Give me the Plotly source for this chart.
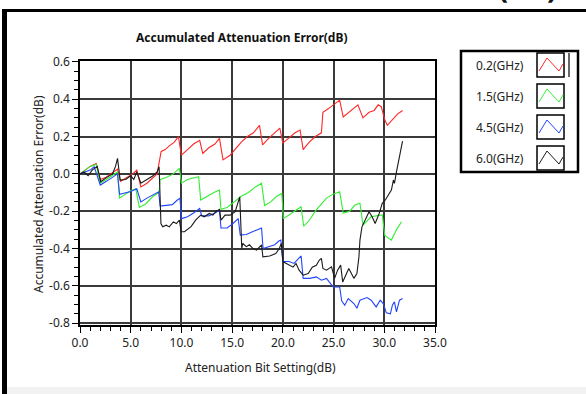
import plotly.graph_objects as go

# ---------------- data ----------------
SERIES_NAMES = ["0.2(GHz)", "1.5(GHz)", "4.5(GHz)", "6.0(GHz)"]
SERIES_COLORS = ["#ff2626", "#33ee33", "#2244ff", "#1a1a1a"]

RED_X = [0, 0.5, 1.0, 1.6, 2.0, 2.5, 3.0, 3.7, 4.0, 4.6, 5.2, 5.6, 6.0, 6.6, 7.2,
         7.6, 8.0, 8.4, 8.8, 9.3, 9.7, 10.0, 10.6, 11.2, 11.8, 12.1, 12.7, 13.3, 13.75, 14.1,
         14.8, 15.4, 15.9, 16.5, 17.1, 17.7, 18.0, 18.6, 19.2, 19.7, 20.0, 20.6, 21.2, 21.7, 22.0,
         22.6, 23.2, 23.8, 23.95, 24.5, 25.0, 25.6, 25.95, 26.5, 27.0, 27.4, 27.9, 28.5, 29.0, 29.4,
         29.7, 30.05, 30.3, 30.8, 31.3, 31.8]
RED_Y = [0, 0.02, 0.04, 0.055, -0.03, -0.02, 0.0, 0.025, -0.04, -0.02, 0.0, 0.02, -0.07, -0.05, -0.02,
         0.0, 0.12, 0.13, 0.15, 0.17, 0.2, 0.10, 0.13, 0.16, 0.18, 0.11, 0.14, 0.16, 0.19, 0.075,
         0.1, 0.14, 0.17, 0.2, 0.22, 0.26, 0.155, 0.19, 0.22, 0.245, 0.165, 0.19, 0.22, 0.235, 0.13,
         0.17, 0.2, 0.22, 0.33, 0.35, 0.37, 0.395, 0.305, 0.33, 0.355, 0.37, 0.30, 0.33, 0.34, 0.37,
         0.36, 0.29, 0.26, 0.29, 0.32, 0.34]

GREEN_X = [0, 0.5, 1.0, 1.6, 2.0, 2.6, 3.2, 3.7, 3.9, 4.5, 5.0, 5.5, 5.85, 6.5, 7.2,
           7.8, 7.9, 8.5, 9.2, 9.8, 10.0, 10.6, 11.2, 11.7, 11.9, 12.5, 13.2, 13.75, 13.9, 14.5,
           15.2, 15.9, 16.6, 17.3, 17.9, 18.2, 18.8, 19.4, 19.9, 20.05, 20.6, 21.2, 21.8, 22.05, 22.6,
           23.2, 23.8, 24.3, 24.9, 25.6, 25.95, 26.6, 27.1, 27.6, 27.9, 28.7, 29.2, 29.8, 30.05, 30.7,
           31.2, 31.7]
GREEN_Y = [0, 0.02, 0.04, 0.05, -0.05, -0.03, -0.01, 0.01, -0.13, -0.11, -0.09, -0.08, -0.18, -0.16, -0.12,
           -0.10, -0.03, -0.02, 0.0, 0.03, -0.05, -0.03, -0.02, -0.015, -0.14, -0.12, -0.1, -0.087, -0.19, -0.18,
           -0.15, -0.12, -0.1, -0.07, -0.05, -0.17, -0.15, -0.12, -0.105, -0.24, -0.22, -0.2, -0.176, -0.28, -0.25,
           -0.2, -0.16, -0.13, -0.11, -0.096, -0.21, -0.2, -0.167, -0.157, -0.275, -0.23, -0.225, -0.22, -0.33, -0.355,
           -0.30, -0.257]

BLUE_X = [0, 0.5, 1.0, 1.4, 2.0, 2.6, 3.2, 3.7, 3.9, 4.5, 5.0, 5.6, 6.0, 6.6, 7.2,
          7.75, 7.9, 8.5, 9.1, 9.6, 9.86, 10.0, 10.6, 11.2, 11.8, 12.0, 12.7, 13.3, 13.75, 13.9,
          14.5, 15.0, 15.6, 15.8, 16.4, 17.0, 17.5, 17.9, 18.05, 18.6, 19.2, 19.6, 19.8, 20.0, 20.6,
          21.1, 21.5, 21.8, 22.0, 22.65, 23.3, 23.8, 24.3, 24.96, 25.6, 25.8, 26.1, 26.45, 27.0, 27.3,
          27.6, 28.3, 28.7, 29.2, 29.6, 29.9, 30.2, 30.6, 30.8, 31.0, 31.2, 31.5, 31.8]
BLUE_Y = [0, 0.01, 0.02, 0.038, -0.06, -0.04, -0.02, 0.0, -0.11, -0.1, -0.095, -0.08, -0.15, -0.13, -0.11,
          -0.096, -0.173, -0.17, -0.165, -0.14, -0.13, -0.24, -0.23, -0.21, -0.185, -0.225, -0.225, -0.21, -0.195, -0.29,
          -0.29, -0.27, -0.24, -0.328, -0.325, -0.31, -0.3, -0.29, -0.40, -0.39, -0.38, -0.36, -0.355, -0.47, -0.47,
          -0.48, -0.46, -0.44, -0.56, -0.56, -0.552, -0.57, -0.56, -0.606, -0.606, -0.68, -0.704, -0.668, -0.695, -0.72,
          -0.677, -0.663, -0.677, -0.713, -0.677, -0.695, -0.745, -0.75, -0.704, -0.686, -0.74, -0.677, -0.668]

BLACK_X = [0, 0.4, 0.8, 1.2, 1.7, 2.04, 2.6, 3.2, 3.5, 3.7, 3.96, 4.5, 5.0, 5.3, 5.6,
           6.0, 6.6, 7.2, 7.6, 7.8, 7.98, 8.15, 8.5, 8.8, 9.2, 9.5, 9.8, 9.97, 10.3, 10.95,
           11.4, 11.9, 12.25, 12.75, 13.1, 13.4, 13.75, 13.9, 14.3, 14.8, 15.3, 15.55, 15.75, 15.95, 16.05,
           16.4, 16.7, 17.05, 17.4, 17.9, 18.03, 18.7, 19.3, 19.65, 19.85, 20.0, 20.6, 21.0, 21.3, 21.6,
           22.0, 22.5, 22.9, 23.3, 23.6, 23.8, 23.95, 24.3, 24.8, 25.1, 25.4, 25.7, 25.9, 26.2, 26.5,
           27.0, 27.3, 27.5, 27.6, 27.8, 28.1, 28.5, 28.8, 29.1, 29.5, 29.8, 30.1, 30.5, 30.7, 30.9,
           31.0, 31.2, 31.55, 31.8]
BLACK_Y = [0, 0.01, -0.01, 0.02, 0.04, -0.042, -0.02, 0.0, 0.04, 0.083, -0.033, -0.03, -0.01, -0.03, 0.01,
           -0.05, -0.03, -0.01, 0.01, 0.038, -0.266, -0.284, -0.275, -0.284, -0.257, -0.266, -0.248, -0.31, -0.31, -0.283,
           -0.248, -0.221, -0.23, -0.212, -0.221, -0.203, -0.19, -0.248, -0.221, -0.221, -0.203, -0.15, -0.123, -0.40, -0.373,
           -0.39, -0.38, -0.40, -0.409, -0.38, -0.445, -0.44, -0.427, -0.40, -0.373, -0.47, -0.49, -0.50, -0.48, -0.516,
           -0.543, -0.534, -0.50, -0.49, -0.462, -0.453, -0.507, -0.516, -0.498, -0.56, -0.516, -0.489, -0.58, -0.543, -0.507,
           -0.56, -0.534, -0.445, -0.355, -0.284, -0.248, -0.203, -0.23, -0.266, -0.212, -0.158, -0.14, -0.105, -0.087, -0.033,
           -0.051, 0.011, 0.10, 0.176]

SERIES_X = [RED_X, GREEN_X, BLUE_X, BLACK_X]
SERIES_Y = [RED_Y, GREEN_Y, BLUE_Y, BLACK_Y]

X_TICKS = [0, 5, 10, 15, 20, 25, 30, 35]
X_TICKTEXT = ["0.0", "5.0", "10.0", "15.0", "20.0", "25.0", "30.0", "35.0"]
Y_TICKS = [0.6, 0.4, 0.2, 0.0, -0.2, -0.4, -0.6, -0.8]
Y_TICKTEXT = ["0.6", "0.4", "0.2", "0.0", "-0.2", "-0.4", "-0.6", "-0.8"]

TITLE = "Accumulated Attenuation Error(dB)"
X_TITLE = "Attenuation Bit Setting(dB)"
Y_TITLE = "Accumulated Attenuation Error(dB)"

# ---------------- layout geometry ----------------
W, H = 586, 394
L, R, T, B = 80, 435, 61, 325
FONT = "Noto Sans"


def xp(px):
    return (px - L) / (R - L)


def yp(py):
    return (B - py) / (B - T)


fig = go.Figure()
for name, color, xs, ys in zip(SERIES_NAMES, SERIES_COLORS, SERIES_X, SERIES_Y):
    fig.add_trace(go.Scatter(x=xs, y=ys, mode="lines", name=name,
                             line=dict(color=color, width=1.1), showlegend=False))

shapes = []
annotations = []

# outer frame (black bars at top & left)
shapes.append(dict(type="rect", xref="paper", yref="paper", x0=xp(2), x1=xp(7), y0=yp(394), y1=yp(9),
                   fillcolor="black", line=dict(width=0), layer="above"))
shapes.append(dict(type="rect", xref="paper", yref="paper", x0=xp(2), x1=xp(586), y0=yp(12), y1=yp(9),
                   fillcolor="black", line=dict(width=0), layer="above"))
# faint grey strip at the bottom
shapes.append(dict(type="rect", xref="paper", yref="paper", x0=xp(7), x1=xp(586), y0=yp(394), y1=yp(387),
                   fillcolor="#f2f2f2", line=dict(width=0), layer="below"))

# legend box
LEG_X0, LEG_X1, LEG_Y0, LEG_Y1 = 461, 578, 51, 172
shapes.append(dict(type="rect", xref="paper", yref="paper", x0=xp(LEG_X0), x1=xp(LEG_X1),
                   y0=yp(LEG_Y1), y1=yp(LEG_Y0), line=dict(color="black", width=2.5),
                   fillcolor="white", layer="above"))
shapes.append(dict(type="line", xref="paper", yref="paper", x0=xp(569), x1=xp(569),
                   y0=yp(77), y1=yp(53), line=dict(color="black", width=1.2)))
ROW_TOP = [53, 84, 115, 146]
for i, (name, color) in enumerate(zip(SERIES_NAMES, SERIES_COLORS)):
    top = ROW_TOP[i]
    shapes.append(dict(type="rect", xref="paper", yref="paper", x0=xp(537), x1=xp(564),
                       y0=yp(top + 24), y1=yp(top), line=dict(color="black", width=1.5),
                       fillcolor="white", layer="above"))
    pts = [(539, top + 18), (547, top + 5), (559, top + 18), (563, top + 11)]
    path = "M " + " L ".join(f"{xp(a):.5f},{yp(b):.5f}" for a, b in pts)
    shapes.append(dict(type="path", xref="paper", yref="paper", path=path,
                       line=dict(color=color, width=1), layer="above"))
    annotations.append(dict(xref="paper", yref="paper", x=xp(526), y=yp(top + 12), text=name,
                            showarrow=False, xanchor="right", yanchor="middle",
                            font=dict(family=FONT, size=12, color="#222")))

# titles
annotations.append(dict(xref="paper", yref="paper", x=xp(242), y=yp(38), text=f"<b>{TITLE}</b>",
                        showarrow=False, xanchor="center", yanchor="middle",
                        font=dict(family=FONT, size=12, color="#111")))
annotations.append(dict(xref="paper", yref="paper", x=xp(260), y=yp(367), text=X_TITLE,
                        showarrow=False, xanchor="center", yanchor="middle",
                        font=dict(family=FONT, size=12, color="#222")))
annotations.append(dict(xref="paper", yref="paper", x=xp(38), y=yp(194), text=Y_TITLE,
                        showarrow=False, xanchor="center", yanchor="middle", textangle=-90,
                        font=dict(family=FONT, size=12, color="#222")))
# cropped large text at the very top right
annotations.append(dict(xref="paper", yref="paper", x=xp(527), y=yp(9), text="<b>(dB)</b>",
                        showarrow=False, xanchor="center", yanchor="bottom",
                        font=dict(family=FONT, size=30, color="#111")))

fig.update_layout(
    width=W, height=H,
    margin=dict(l=L, r=W - R, t=T, b=H - B, pad=0),
    paper_bgcolor="white", plot_bgcolor="white",
    shapes=shapes, annotations=annotations,
    showlegend=False,
    font=dict(family=FONT, size=12, color="#222"),
)
fig.update_xaxes(
    range=[0, 35], tickvals=X_TICKS, ticktext=X_TICKTEXT,
    showgrid=True, gridcolor="#3a3a3a", gridwidth=1.6,
    showline=True, linecolor="black", linewidth=1.5, mirror=True,
    ticks="outside", ticklen=6, tickwidth=1.2, tickcolor="black",
    minor=dict(dtick=1, ticks="outside", ticklen=4, tickwidth=1, tickcolor="black", showgrid=False),
    zeroline=False, tickfont=dict(family=FONT, size=12, color="#222"),
)
fig.update_yaxes(
    range=[-0.81, 0.605], tickvals=Y_TICKS, ticktext=Y_TICKTEXT,
    showgrid=True, gridcolor="#3a3a3a", gridwidth=1.6,
    showline=True, linecolor="black", linewidth=1.5, mirror=True,
    ticks="outside", ticklen=6, tickwidth=1.2, tickcolor="black",
    minor=dict(dtick=0.05, tick0=0, ticks="outside", ticklen=4, tickwidth=1, tickcolor="black", showgrid=False),
    zeroline=False, tickfont=dict(family=FONT, size=12, color="#222"),
)

fig.write_html("out.html")
